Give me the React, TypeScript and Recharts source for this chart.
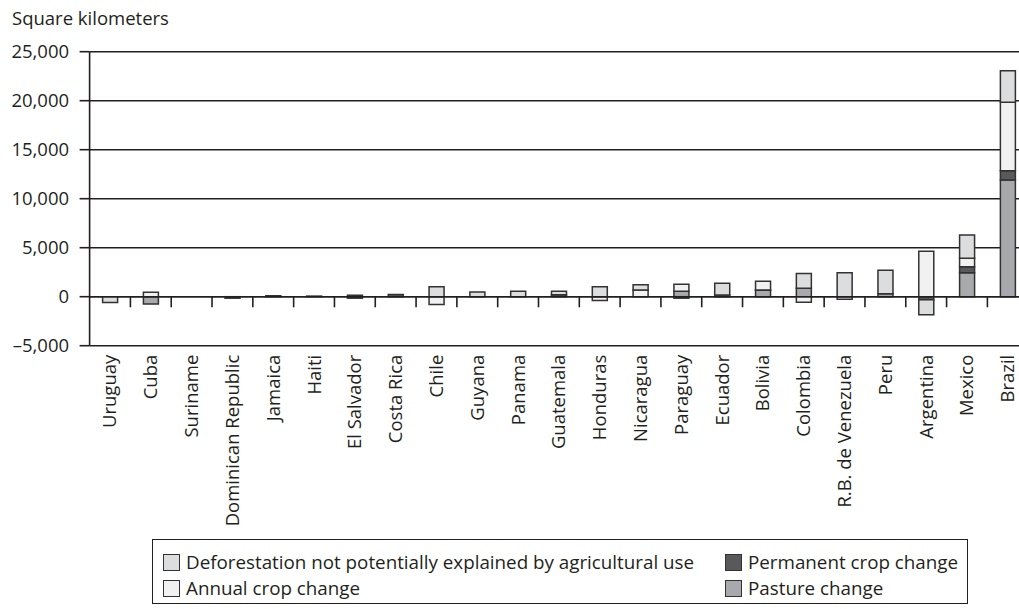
import React from 'react';
import {
  BarChart,
  Bar,
  XAxis,
  YAxis,
  CartesianGrid,
  ReferenceLine,
} from 'recharts';

// countries, ordered by total deforestation
const countries = [
  'Uruguay', 'Cuba', 'Suriname', 'Dominican Republic', 'Jamaica', 'Haiti',
  'El Salvador', 'Costa Rica', 'Chile', 'Guyana', 'Panama', 'Guatemala',
  'Honduras', 'Nicaragua', 'Paraguay', 'Ecuador', 'Bolivia', 'Colombia',
  'R.B. de Venezuela', 'Peru', 'Argentina', 'Mexico', 'Brazil',
];

// square kilometers
const pastureChange = [
  0, -750, 0, 0, 0, 0, -150, 0, 0, 0, 0, 0,
  0, 0, 560, 0, 660, 850, 0, 300, 0, 2450, 11900,
];
const permanentCropChange = [
  0, 0, 0, -150, 0, 60, 150, 220, 0, 0, 0, 200,
  0, 0, -150, 170, 30, 0, 0, 0, -300, 610, 950,
];
const annualCropChange = [
  0, 450, 0, 0, 0, 0, 0, 0, -800, 0, 0, 0,
  -400, 680, 720, 0, 880, -570, -250, 0, 4650, 860, 6980,
];
const unexplainedDeforestation = [
  -580, 0, 0, 0, 100, 0, 0, 0, 1020, 480, 550, 350,
  1020, 545, 0, 1190, 0, 1530, 2450, 2390, -1550, 2380, 3220,
];

const yTicks = [-5000, 0, 5000, 10000, 15000, 20000, 25000];

// length of the small category separators hanging under the zero line
const SEPARATOR_DEPTH = -1080;

const data = countries.map((country, i) => ({
  country,
  pasture: pastureChange[i],
  permanent: permanentCropChange[i],
  annual: annualCropChange[i],
  unexplained: unexplainedDeforestation[i],
}));

const INK = '#231f20';
const BORDER = '#333132';
const FONT = '"Open Sans", sans-serif';

const series = [
  { key: 'pasture', name: 'Pasture change', color: '#a7a9ac' },
  { key: 'permanent', name: 'Permanent crop change', color: '#58595b' },
  { key: 'annual', name: 'Annual crop change', color: '#f1f1f2' },
  { key: 'unexplained', name: 'Deforestation not potentially explained by agricultural use', color: '#dcddde' },
];

const formatTick = (v: number) => {
  const s = Math.abs(v).toLocaleString('en-US');
  return v < 0 ? `\u2013${s}` : s;
};

const CountryTick = ({ x, y, payload }: any) => (
  <g transform={`translate(${x},${y})`}>
    <text
      transform="rotate(-90)"
      textAnchor="end"
      dy="0.35em"
      fontSize={18.5}
      fontFamily={FONT}
      fill={INK}
    >
      {payload.value}
    </text>
  </g>
);

// legend slots: [series key, left, center y] inside the box
const legendSlots: [string, number, number][] = [
  ['unexplained', 10, 22],
  ['permanent', 572, 22],
  ['annual', 10, 48],
  ['pasture', 572, 48],
];

const App: React.FC = () => {
  return (
    <div
      style={{
        position: 'absolute',
        left: 0,
        top: 0,
        width: 1019,
        height: 609,
        overflow: 'hidden',
        background: '#fff',
        fontFamily: FONT,
        color: INK,
      }}
    >
      <div style={{ position: 'absolute', left: 12, top: 5, fontSize: 18.5, whiteSpace: 'nowrap' }}>
        Square kilometers
      </div>

      <BarChart
        width={1040}
        height={545}
        data={data}
        stackOffset="sign"
        margin={{ top: 51.7, right: 11.8, left: 0, bottom: 0 }}
        barSize={15}
      >
        <CartesianGrid horizontal vertical={false} stroke={INK} strokeWidth={1.6} />
        <XAxis
          dataKey="country"
          axisLine={false}
          tickLine={false}
          tickSize={0}
          tickMargin={9}
          interval={0}
          height={199.3}
          tick={<CountryTick />}
        />
        <YAxis
          domain={[-5000, 25000]}
          ticks={yTicks}
          width={89.6}
          tickFormatter={formatTick}
          tickSize={10}
          tickMargin={10.5}
          axisLine={{ stroke: INK, strokeWidth: 1.6 }}
          tickLine={{ stroke: INK, strokeWidth: 1.6 }}
          tick={{ fontSize: 18.5, fontFamily: FONT, fill: INK }}
        />
        {series.map((s) => (
          <Bar
            key={s.key}
            dataKey={s.key}
            name={s.name}
            stackId="a"
            fill={s.color}
            stroke={BORDER}
            strokeWidth={1.5}
            isAnimationActive={false}
          />
        ))}
        <ReferenceLine y={0} stroke={INK} strokeWidth={1.6} ifOverflow="visible" />
        {countries.slice(1).map((c) => (
          <ReferenceLine
            key={c}
            segment={[{ x: c, y: 0 }, { x: c, y: SEPARATOR_DEPTH }]}
            position="start"
            ifOverflow="visible"
            stroke={INK}
            strokeWidth={1.6}
          />
        ))}
      </BarChart>

      <div
        style={{
          position: 'absolute',
          left: 152,
          top: 539,
          width: 816,
          height: 65,
          boxSizing: 'border-box',
          border: `1.3px solid ${INK}`,
        }}
      >
        {legendSlots.map(([key, left, cy]) => {
          const s = series.find((d) => d.key === key)!;
          return (
            <div
              key={key}
              style={{
                position: 'absolute',
                left,
                top: cy - 13,
                height: 26,
                display: 'flex',
                alignItems: 'center',
                fontSize: 18.8,
                whiteSpace: 'nowrap',
              }}
            >
              <span
                style={{
                  display: 'inline-block',
                  width: 17,
                  height: 17,
                  boxSizing: 'border-box',
                  border: `1.3px solid ${BORDER}`,
                  background: s.color,
                  marginRight: 6,
                }}
              />
              {s.name}
            </div>
          );
        })}
      </div>
    </div>
  );
};

export default App;
